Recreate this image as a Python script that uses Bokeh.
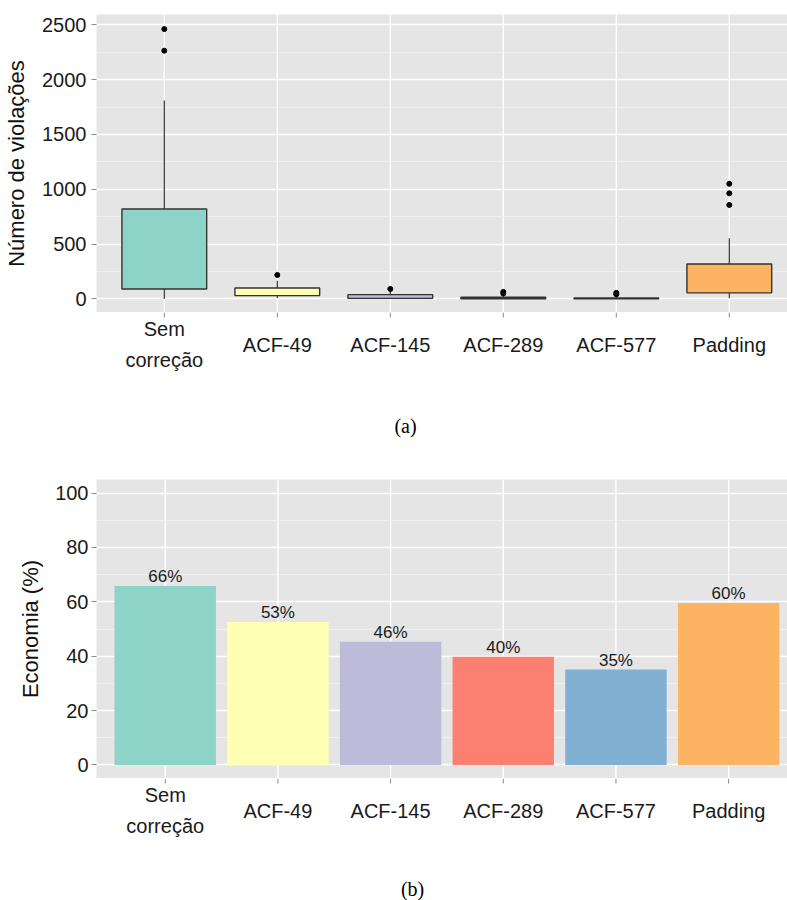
from bokeh.plotting import figure
from bokeh.models import Range1d, FixedTicker
from bokeh.layouts import column
from bokeh.embed import file_html
from bokeh.resources import INLINE
from bokeh.core.properties import value

# ---------------- data ----------------
categories = ["Sem\ncorreção", "ACF-49", "ACF-145", "ACF-289", "ACF-577", "Padding"]
colors = ["#8DD3C7", "#FFFFB3", "#BEBADA", "#FB8072", "#80B1D3", "#FDB462"]

box_low = [0, 8, 0, 0, 0, 5]
box_q1 = [91, 30, 5, 1, 1, 55]
box_median = [203, 66, 20, 8, 5, 121]
box_q3 = [820, 100, 39, 15, 9, 318]
box_high = [1810, 166, 75, 35, 25, 554]

outlier_cat = ["Sem\ncorreção", "Sem\ncorreção", "ACF-49", "ACF-145", "ACF-289",
               "ACF-289", "ACF-577", "ACF-577", "Padding", "Padding", "Padding"]
outlier_val = [2461, 2264, 218, 91, 64, 50, 55, 42, 1050, 963, 857]

economia = [65.8, 52.6, 45.3, 39.8, 35.1, 59.6]
economia_labels = ["66%", "53%", "46%", "40%", "35%", "60%"]

violation_ticks = [0, 500, 1000, 1500, 2000, 2500]
economia_ticks = [0, 20, 40, 60, 80, 100]

FONT = "Liberation Sans"
SERIF = "Liberation Serif"
PANEL = "#E5E5E5"
WIDTH = 787
xpos = [i + 1 for i in range(len(categories))]
outlier_x = [categories.index(c) + 1 for c in outlier_cat]


def minor_of(ticks):
    return [(a + b) / 2 for a, b in zip(ticks[:-1], ticks[1:])]


def make_panel(top_border, left_border, panel_px, y_lo, y_hi, x_lo, x_px_per_unit,
               yticks, ytitle, ylab_standoff, ytitle_standoff):
    x_hi = x_lo + (WIDTH - left_border) / x_px_per_unit
    p = figure(width=WIDTH, height=top_border + panel_px,
               x_range=Range1d(x_lo, x_hi), y_range=Range1d(y_lo, y_hi),
               x_axis_location=None, output_backend="svg", toolbar_location=None,
               min_border_left=left_border, min_border_top=top_border,
               min_border_right=0, min_border_bottom=0)
    p.background_fill_color = PANEL
    p.border_fill_color = "white"
    p.outline_line_color = None

    ax = p.yaxis[0]
    ax.ticker = FixedTicker(ticks=yticks, minor_ticks=minor_of(yticks))
    ax.axis_line_color = None
    ax.major_tick_line_color = "#8A8A8A"
    ax.major_tick_out = 5
    ax.major_tick_in = 0
    ax.minor_tick_line_color = None
    ax.major_label_text_font = FONT
    ax.major_label_text_font_size = "20px"
    ax.major_label_text_color = "#1A1A1A"
    ax.major_label_standoff = ylab_standoff
    ax.axis_label = ytitle
    ax.axis_label_text_font = FONT
    ax.axis_label_text_font_size = "22px"
    ax.axis_label_text_font_style = "normal"
    ax.axis_label_text_color = "#111111"
    ax.axis_label_standoff = ytitle_standoff

    g = p.ygrid[0]
    g.grid_line_color = "white"
    g.grid_line_width = 1.4
    g.minor_grid_line_color = "#F2F2F2"
    g.minor_grid_line_width = 0.8
    for xg in p.xgrid:
        xg.visible = False

    # vertical grid lines at the categories
    p.segment(x0=xpos, x1=xpos, y0=[y_lo] * len(xpos), y1=[y_hi] * len(xpos),
              line_color="white", line_width=1.4, level="underlay")
    return p


def make_labels(panel, height, left_border, label_dy, caption, caption_dy, caption_x_px):
    # strip below the panel: y measured in pixels down from the panel's bottom edge
    p = figure(width=WIDTH, height=height, x_range=panel.x_range,
               y_range=Range1d(height, 0), x_axis_location=None, y_axis_location=None,
               output_backend="svg", toolbar_location=None,
               min_border_left=left_border, min_border_top=0,
               min_border_right=0, min_border_bottom=0)
    p.background_fill_color = "white"
    p.border_fill_color = "white"
    p.outline_line_color = None
    for gr in p.xgrid + p.ygrid:
        gr.visible = False
    n = len(xpos)
    # tick marks
    p.segment(x0=xpos, x1=xpos, y0=[0] * n, y1=[5] * n, line_color="#8A8A8A", line_width=1)
    # category labels, vertically centred like ggplot
    p.text(x=xpos, y=[label_dy] * n, text=categories, text_align="center",
           text_baseline="middle", text_font=value(FONT), text_font_size="20px",
           text_color="#1A1A1A", text_line_height=1.45)
    # caption
    xr = panel.x_range
    px_per_unit = (WIDTH - left_border) / (xr.end - xr.start)
    p.text(x=[xr.start + (caption_x_px - left_border) / px_per_unit], y=[caption_dy],
           text=[caption], text_align="center", text_baseline="middle",
           text_font=value(SERIF), text_font_size="20px", text_color="black")
    return p


# ---------------- (a) boxplot ----------------
p1 = make_panel(14, 96, 298, -124, 2594, 0.4, 113.0, violation_ticks,
                "Número de violações", 5, 10)

p1.segment(x0=xpos, y0=box_q3, x1=xpos, y1=box_high, line_color="#333333", line_width=1.2)
p1.segment(x0=xpos, y0=box_low, x1=xpos, y1=box_q1, line_color="#333333", line_width=1.2)
p1.vbar(x=xpos, width=0.75, bottom=box_q1, top=box_q3, fill_color=colors,
        line_color="#333333", line_width=1.4)
p1.rect(x=xpos, y=box_median, width=0.75, height=0, line_color="#333333",
        line_width=2.4, fill_color=None)
p1.scatter(x=outlier_x, y=outlier_val, size=5, color="black")

l1 = make_labels(p1, 143, 96, 32, "(a)", 113, 405)

# ---------------- (b) bar chart ----------------
p2 = make_panel(24, 83, 299, -5, 105, 0.39, 114.8, economia_ticks,
                "Economia (%)", 3, 9)

p2.vbar(x=xpos, width=0.9, top=economia, bottom=0, fill_color=colors, line_color=None)
p2.text(x=xpos, y=economia, text=economia_labels, text_align="center",
        text_baseline="bottom", text_font=value(FONT), text_font_size="17px",
        text_color="#1A1A1A")

l2 = make_labels(p2, 122, 83, 32, "(b)", 110, 405)

layout = column(p1, l1, p2, l2)
open("out.html", "w").write(file_html(layout, INLINE))
